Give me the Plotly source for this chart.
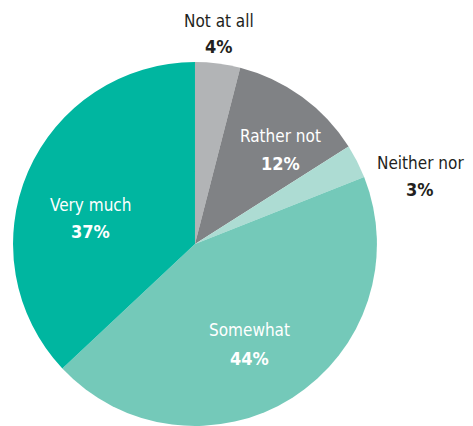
import plotly.graph_objects as go

labels = ['Not at all', 'Rather not', 'Neither nor', 'Somewhat', 'Very much']
values = [4, 12, 3, 44, 37]
colors = ['#b2b4b6', '#808285', '#addcd3', '#74c9b9', '#00b6a0']

W, H = 473, 426
OFF = 8  # page body margin

# label spots in pixels (x, y of name line, y of percent line) and text colour
label_px = [(219, 21, 47), (280, 136, 164), (420, 163, 190), (249, 330, 358), (90, 205, 231)]
label_col = ['#231f20', 'white', '#231f20', 'white', 'white']

FONT = 'DejaVu Sans Condensed, Liberation Sans Narrow, sans-serif'


def px(x, y):
    return (x - OFF) / W, (H - (y - OFF)) / H


fig = go.Figure(go.Pie(
    labels=labels, values=values, sort=False, direction='clockwise', rotation=0,
    marker=dict(colors=colors, line=dict(width=0)),
    textinfo='none', hoverinfo='label+percent', showlegend=False,
    domain=dict(x=[0.0106, 0.780], y=[0.0188, 0.873]),
))

for lab, v, (x, y1, y2), c in zip(labels, values, label_px, label_col):
    ax, ay = px(x, y1)
    fig.add_annotation(x=ax, y=ay, xref='paper', yref='paper', showarrow=False,
                       text=lab, xanchor='center', yanchor='middle',
                       font=dict(family=FONT, size=17, color=c))
    ax, ay = px(x, y2)
    fig.add_annotation(x=ax, y=ay, xref='paper', yref='paper', showarrow=False,
                       text=f'<b>{v}%</b>', xanchor='center', yanchor='middle',
                       font=dict(family=FONT, size=18, color=c))

fig.update_layout(width=W, height=H, margin=dict(l=0, r=0, t=0, b=0),
                  paper_bgcolor='white', plot_bgcolor='white')
fig.write_html('out.html')
